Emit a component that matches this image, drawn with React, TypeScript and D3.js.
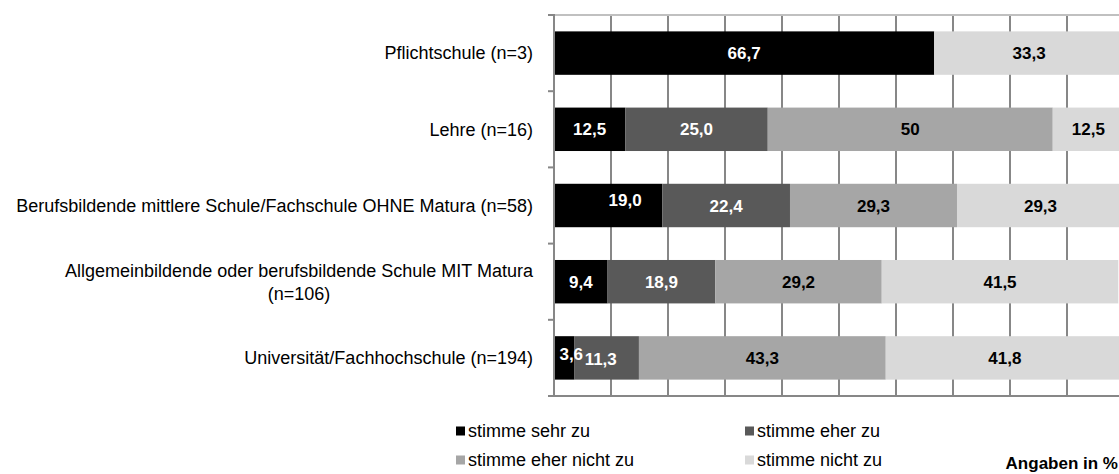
import * as d3 from "d3";
import { useEffect, useRef } from "react";

const categories = [
  "Pflichtschule (n=3)",
  "Lehre (n=16)",
  "Berufsbildende mittlere Schule/Fachschule OHNE Matura (n=58)",
  "Allgemeinbildende oder berufsbildende Schule MIT Matura\n(n=106)",
  "Universität/Fachhochschule (n=194)",
];

const seriesNames = [
  "stimme sehr zu",
  "stimme eher zu",
  "stimme eher nicht zu",
  "stimme nicht zu",
];

const sehrZu = [66.7, 12.5, 19.0, 9.4, 3.6];
const eherZu = [0, 25.0, 22.4, 18.9, 11.3];
const eherNichtZu = [0, 50, 29.3, 29.2, 43.3];
const nichtZu = [33.3, 12.5, 29.3, 41.5, 41.8];

const fills = ["#000000", "#595959", "#a6a6a6", "#d9d9d9"];
const labelFills = ["#ffffff", "#ffffff", "#000000", "#000000"];

// excel shifted a few overlapping labels
const nudges = {
  "2-0": [17, -6],
  "4-0": [7, -4],
  "4-1": [-6, 1],
};

const FONT = "'Liberation Sans', Arial, sans-serif";

function App() {
  const ref = useRef(null);

  useEffect(() => {
    const svg = d3.select(ref.current);
    svg.selectAll("*").remove();

    const top = 15,
      bottom = 396,
      left = 554;

    const x = d3.scaleLinear().domain([0, 100]).range([left, 1124]);
    const y = d3
      .scaleBand()
      .domain(categories)
      .range([top, bottom])
      .paddingInner(0.43)
      .paddingOuter(0.215);
    const yEdge = d3.scaleLinear().domain([0, categories.length]).range([top, bottom]);

    const rows = categories.map((c, i) => ({
      cat: c,
      [seriesNames[0]]: sehrZu[i],
      [seriesNames[1]]: eherZu[i],
      [seriesNames[2]]: eherNichtZu[i],
      [seriesNames[3]]: nichtZu[i],
    }));
    const stacked = d3.stack().keys(seriesNames)(rows);

    // gridlines
    svg
      .append("g")
      .selectAll("line")
      .data(d3.range(10, 101, 10))
      .join("line")
      .attr("x1", (d) => x(d))
      .attr("x2", (d) => x(d))
      .attr("y1", top)
      .attr("y2", bottom)
      .attr("stroke", "#878787")
      .attr("stroke-width", 2);

    svg
      .append("line")
      .attr("x1", left)
      .attr("x2", 1130)
      .attr("y1", top)
      .attr("y2", top)
      .attr("stroke", "#c0c0c0")
      .attr("stroke-width", 2);

    // bars
    const layer = svg
      .append("g")
      .selectAll("g")
      .data(stacked)
      .join("g")
      .attr("fill", (d, i) => fills[i]);

    layer
      .selectAll("rect")
      .data((d) => d.filter((s) => s[1] - s[0] > 0))
      .join("rect")
      .attr("x", (d) => x(d[0]))
      .attr("width", (d) => x(d[1]) - x(d[0]))
      .attr("y", (d) => y(d.data.cat))
      .attr("height", y.bandwidth());

    // axes
    svg
      .append("line")
      .attr("x1", left)
      .attr("x2", left)
      .attr("y1", top - 1)
      .attr("y2", bottom + 1)
      .attr("stroke", "#878787")
      .attr("stroke-width", 2);
    svg
      .append("line")
      .attr("x1", left - 6)
      .attr("x2", 1130)
      .attr("y1", bottom)
      .attr("y2", bottom)
      .attr("stroke", "#878787")
      .attr("stroke-width", 2);
    svg
      .append("g")
      .selectAll("line")
      .data(d3.range(0, categories.length + 1))
      .join("line")
      .attr("x1", left - 6)
      .attr("x2", left)
      .attr("y1", (d) => yEdge(d))
      .attr("y2", (d) => yEdge(d))
      .attr("stroke", "#878787")
      .attr("stroke-width", 2);

    // value labels
    const fmt = (v) => (v === 50 ? "50" : d3.format(".1f")(v).replace(".", ","));
    stacked.forEach((s, si) => {
      s.forEach((d, ci) => {
        const v = d[1] - d[0];
        if (v <= 0) return;
        const n = nudges[`${ci}-${si}`] || [0, 0];
        svg
          .append("text")
          .attr("x", (x(d[0]) + x(d[1])) / 2 + n[0])
          .attr("y", y(d.data.cat) + y.bandwidth() / 2 + n[1])
          .attr("dy", "0.36em")
          .attr("text-anchor", "middle")
          .style("font-family", FONT)
          .style("font-size", "17px")
          .style("font-weight", "bold")
          .style("fill", labelFills[si])
          .text(fmt(v));
      });
    });

    // category labels
    categories.forEach((c) => {
      const lines = c.split("\n");
      const cy = y(c) + y.bandwidth() / 2;
      const lh = 23;
      const g = svg.append("g");
      const texts = lines.map((l, li) =>
        g
          .append("text")
          .attr("x", 533)
          .attr("y", cy + (li - (lines.length - 1) / 2) * lh)
          .attr("dy", "0.35em")
          .attr("text-anchor", "end")
          .style("font-family", FONT)
          .style("font-size", "18px")
          .style("fill", "#000")
          .text(l)
      );
      if (lines.length > 1) {
        const w = d3.max(texts, (t) => t.node().getComputedTextLength());
        texts.forEach((t) => t.attr("text-anchor", "middle").attr("x", 533 - w / 2));
      }
    });

    // legend
    const legend = svg
      .append("g")
      .selectAll("g")
      .data(seriesNames)
      .join("g")
      .attr("transform", (d, i) => `translate(${[456, 745][i % 2]},${[431, 460][Math.floor(i / 2)]})`);
    legend
      .append("rect")
      .attr("x", 0)
      .attr("y", -4.5)
      .attr("width", 9)
      .attr("height", 9)
      .attr("fill", (d, i) => fills[i]);
    legend
      .append("text")
      .attr("x", 12)
      .attr("dy", "0.35em")
      .style("font-family", FONT)
      .style("font-size", "18px")
      .style("fill", "#000")
      .text((d) => d);

    svg
      .append("text")
      .attr("x", 1118)
      .attr("y", 469)
      .attr("text-anchor", "end")
      .style("font-family", FONT)
      .style("font-size", "17px")
      .style("font-weight", "bold")
      .style("fill", "#000")
      .text("Angaben in %");
  }, []);

  return (
    <svg
      ref={ref}
      width={1119}
      height={474}
      style={{ position: "absolute", left: 0, top: 0, background: "#fff" }}
    />
  );
}

export default App;
